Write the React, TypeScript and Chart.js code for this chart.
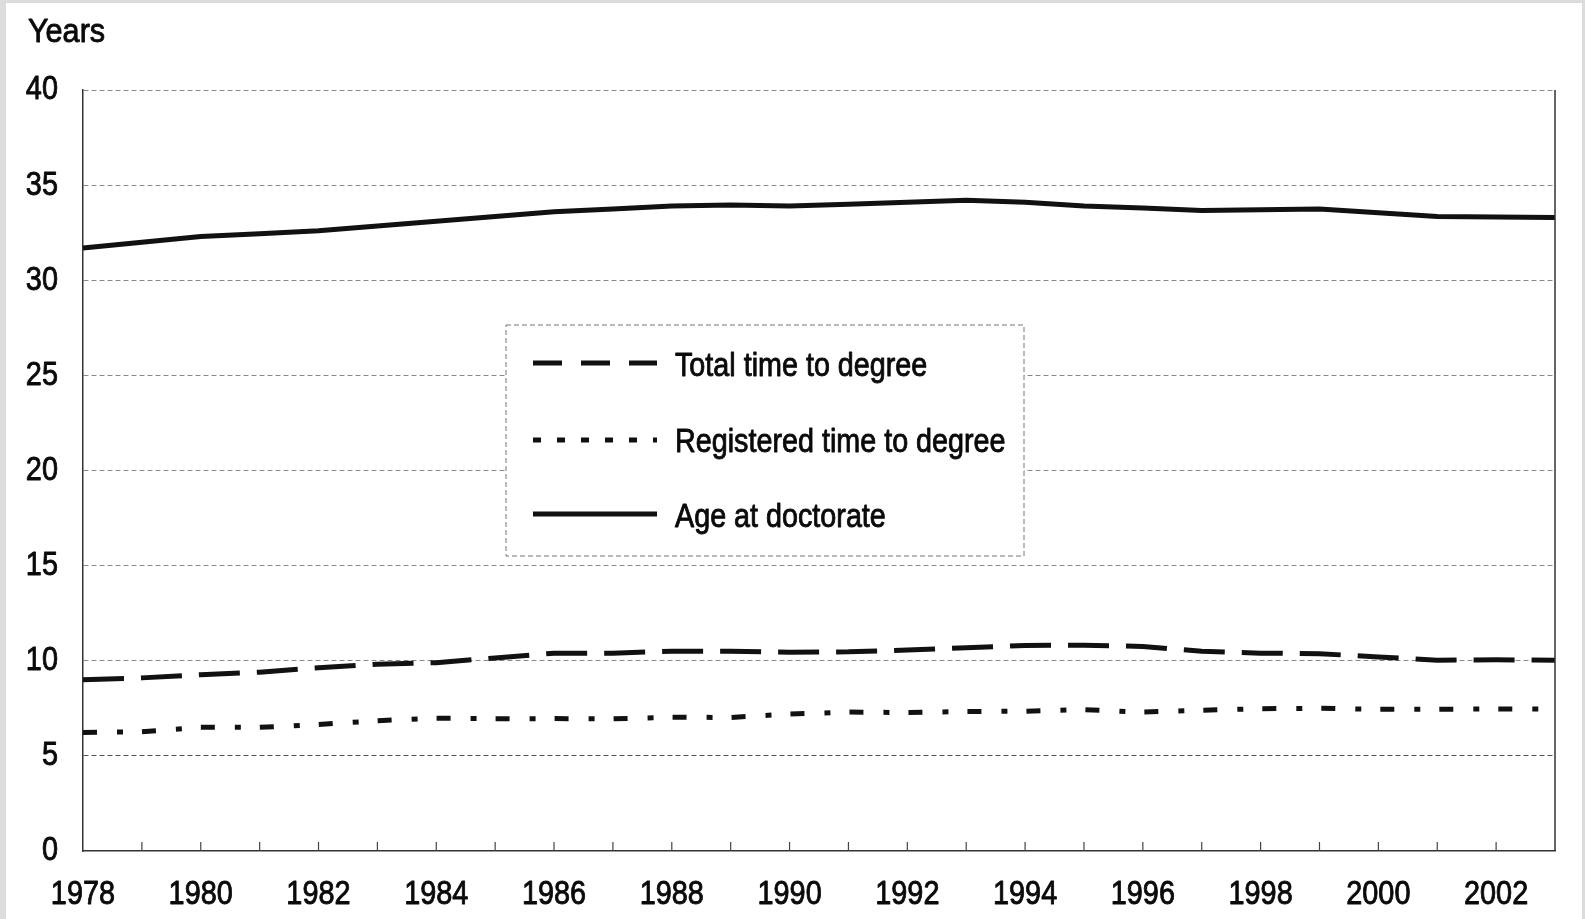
import React, { useEffect, useRef } from 'react';
import { Chart, registerables } from 'chart.js';

Chart.register(...registerables);

const years = [
  '1978', '1979', '1980', '1981', '1982', '1983', '1984', '1985', '1986', '1987',
  '1988', '1989', '1990', '1991', '1992', '1993', '1994', '1995', '1996', '1997',
  '1998', '1999', '2000', '2001', '2002', '2003',
];

const totalTimeToDegree = [
  9.0, 9.1, 9.27, 9.4, 9.63, 9.82, 9.9, 10.15, 10.4, 10.4,
  10.5, 10.5, 10.45, 10.47, 10.56, 10.68, 10.8, 10.82, 10.75, 10.5,
  10.4, 10.37, 10.2, 10.03, 10.05, 10.03,
];

const registeredTimeToDegree = [
  6.23, 6.27, 6.5, 6.5, 6.65, 6.85, 6.98, 6.95, 6.96, 6.95,
  7.03, 7.02, 7.2, 7.3, 7.28, 7.33, 7.35, 7.43, 7.3, 7.4,
  7.48, 7.5, 7.45, 7.45, 7.47, 7.46,
];

const ageAtDoctorate = [
  31.7, 32.0, 32.3, 32.45, 32.6, 32.85, 33.1, 33.35, 33.6, 33.75,
  33.9, 33.95, 33.9, 34.0, 34.1, 34.2, 34.1, 33.9, 33.8, 33.67,
  33.7, 33.75, 33.55, 33.35, 33.33, 33.3,
];

const yTicks = [0, 5, 10, 15, 20, 25, 30, 35, 40];
const yAxisTitle = 'Years';
const seriesNames = ['Total time to degree', 'Registered time to degree', 'Age at doctorate'];

const FONT = "'Liberation Sans', Arial, sans-serif";
const FONT_SIZE = 34;
const NARROW = 0.85;
const W = 1585;
const H = 919;

function narrowText(
  ctx: CanvasRenderingContext2D,
  text: string,
  x: number,
  y: number,
  align: CanvasTextAlign,
  baseline: CanvasTextBaseline,
  scaleX: number = NARROW,
) {
  ctx.save();
  ctx.font = `${FONT_SIZE}px ${FONT}`;
  ctx.fillStyle = '#0a0a0a';
  ctx.strokeStyle = '#0a0a0a';
  ctx.lineWidth = 0.9;
  ctx.lineJoin = 'round';
  ctx.setLineDash([]);
  ctx.textAlign = align;
  ctx.textBaseline = baseline;
  ctx.translate(x, y);
  ctx.scale(scaleX, 1);
  ctx.fillText(text, 0, 0);
  ctx.strokeText(text, 0, 0);
  ctx.restore();
}

const backgroundPlugin = {
  id: 'scanBackground',
  beforeDraw(chart: any) {
    const ctx = chart.ctx;
    ctx.save();
    ctx.fillStyle = '#dcdcdc';
    ctx.fillRect(0, 0, W, H);
    ctx.fillStyle = '#ffffff';
    ctx.fillRect(6, 3, W - 9, H - 3);
    ctx.restore();
  },
};

const framePlugin = {
  id: 'frameAndLegend',
  afterDraw(chart: any) {
    const ctx = chart.ctx;
    const area = chart.chartArea;
    const xScale = chart.scales.x;
    const yScale = chart.scales.y;
    ctx.save();
    // right border
    ctx.strokeStyle = '#333';
    ctx.lineWidth = 1.5;
    ctx.setLineDash([]);
    ctx.beginPath();
    ctx.moveTo(area.right, area.top);
    ctx.lineTo(area.right, area.bottom);
    ctx.stroke();
    // inward ticks on x axis
    ctx.lineWidth = 1.2;
    ctx.strokeStyle = '#444';
    for (let i = 1; i < years.length - 1; i++) {
      const px = xScale.getPixelForValue(i);
      ctx.beginPath();
      ctx.moveTo(px, area.bottom);
      ctx.lineTo(px, area.bottom - 9);
      ctx.stroke();
    }
    ctx.restore();

    // y tick labels
    yScale.ticks.forEach((t: any) => {
      const py = yScale.getPixelForValue(t.value);
      narrowText(ctx, String(t.value), 58, py, 'right', 'middle');
    });
    // x tick labels
    years.forEach((label, i) => {
      if (i % 2 !== 0) return;
      const px = xScale.getPixelForValue(i);
      narrowText(ctx, label, px, area.bottom + 53, 'center', 'alphabetic');
    });
    // axis title
    narrowText(ctx, yAxisTitle, 28, 42, 'left', 'alphabetic', 0.9);

    // legend box
    ctx.save();
    const bx = 506, by = 325, bw = 518, bh = 231;
    ctx.fillStyle = '#ffffff';
    ctx.fillRect(bx, by, bw, bh);
    ctx.strokeStyle = '#777';
    ctx.lineWidth = 1;
    ctx.setLineDash([5, 3]);
    ctx.strokeRect(bx, by, bw, bh);

    const rows = [363, 440, 514];
    const textY = [376, 452, 527];
    const dashes = [[29, 19], [8, 16], []];
    const x0 = 533, x1 = 657;
    chart.data.datasets.forEach((ds: any, i: number) => {
      ctx.setLineDash(dashes[i]);
      ctx.strokeStyle = ds.borderColor;
      ctx.lineWidth = ds.borderWidth;
      ctx.lineCap = 'butt';
      ctx.beginPath();
      ctx.moveTo(x0, rows[i]);
      ctx.lineTo(x1, rows[i]);
      ctx.stroke();
      ctx.setLineDash([]);
      narrowText(ctx, ds.label, 675, textY[i], 'left', 'alphabetic', 0.845);
    });
    ctx.restore();
  },
};

export default function App() {
  const canvasRef = useRef<HTMLCanvasElement | null>(null);

  useEffect(() => {
    const canvas = canvasRef.current;
    if (!canvas) return;
    const chart = new Chart(canvas, {
      type: 'line',
      data: {
        labels: years,
        datasets: [
          {
            label: seriesNames[0],
            data: totalTimeToDegree,
            borderColor: '#111',
            borderWidth: 5,
            borderDash: [41, 17],
            pointRadius: 0,
            tension: 0,
            fill: false,
          },
          {
            label: seriesNames[1],
            data: registeredTimeToDegree,
            borderColor: '#111',
            borderWidth: 5,
            borderDash: [14, 20, 6, 19],
            pointRadius: 0,
            tension: 0,
            fill: false,
          },
          {
            label: seriesNames[2],
            data: ageAtDoctorate,
            borderColor: '#111',
            borderWidth: 5,
            pointRadius: 0,
            tension: 0,
            fill: false,
          },
        ],
      },
      options: {
        responsive: false,
        animation: false,
        devicePixelRatio: 1,
        layout: { padding: { top: 90, right: 30, left: 0, bottom: 0 } },
        plugins: {
          legend: { display: false },
          tooltip: { enabled: false },
          title: { display: false },
        },
        scales: {
          x: {
            type: 'category',
            offset: false,
            grid: { display: false, drawTicks: false },
            border: { display: true, color: '#333', width: 1.5 },
            ticks: { display: false, autoSkip: false, maxRotation: 0, minRotation: 0 },
            afterFit: (s: any) => {
              s.height = 68;
            },
          },
          y: {
            type: 'linear',
            min: yTicks[0],
            max: yTicks[yTicks.length - 1],
            afterBuildTicks: (s: any) => {
              s.ticks = yTicks.map((v) => ({ value: v }));
            },
            grid: {
              drawTicks: false,
              color: (c: any) =>
                c.tick && c.tick.value === 0 ? 'rgba(0,0,0,0)' : c.tick && c.tick.value === 5 ? '#555' : '#888',
              lineWidth: 1,
            },
            border: { display: true, color: '#333', width: 1.5, dash: [5, 3] },
            ticks: { display: false },
            afterFit: (s: any) => {
              s.width = 83;
            },
          },
        },
      },
      plugins: [backgroundPlugin, framePlugin],
    });
    return () => chart.destroy();
  }, []);

  return (
    <div style={{ position: 'fixed', left: 0, top: 0, width: W, height: H, background: '#dcdcdc' }}>
      <canvas ref={canvasRef} width={W} height={H} style={{ display: 'block', width: W, height: H }} />
    </div>
  );
}
